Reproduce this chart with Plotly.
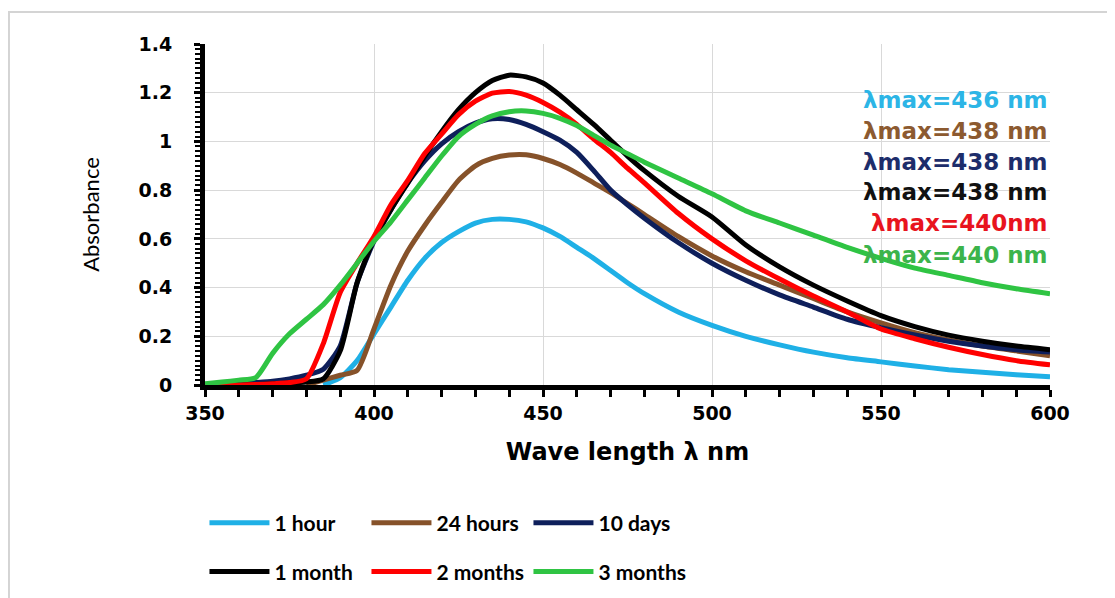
import plotly.graph_objects as go

wavelength = [350, 355, 360, 365, 370, 375, 380, 385, 390, 395, 400, 405, 410, 415, 420,
              425, 430, 435, 440, 445, 450, 455, 460, 465, 470, 475, 480, 490, 500, 510,
              520, 530, 540, 550, 560, 570, 580, 590, 600]

abs_1_hour = [None, None, None, None, None, None, None, 0.0, 0.03, 0.10, 0.21, 0.32, 0.43, 0.52, 0.585,
              0.63, 0.665, 0.68, 0.68, 0.67, 0.645, 0.61, 0.565, 0.52, 0.47, 0.42, 0.375, 0.30, 0.245, 0.20,
              0.165, 0.135, 0.112, 0.095, 0.078, 0.063, 0.052, 0.042, 0.034]

abs_24_hours = [None, None, None, None, None, None, 0.0, 0.02, 0.04, 0.06, 0.23, 0.41, 0.55, 0.655, 0.75,
                0.84, 0.90, 0.93, 0.944, 0.945, 0.93, 0.905, 0.87, 0.83, 0.79, 0.745, 0.70, 0.61, 0.53, 0.465,
                0.41, 0.355, 0.30, 0.255, 0.215, 0.185, 0.16, 0.14, 0.12]

abs_10_days = [0.0, 0.003, 0.006, 0.01, 0.015, 0.025, 0.04, 0.065, 0.16, 0.42, 0.59, 0.72, 0.83, 0.92, 0.99,
               1.04, 1.075, 1.093, 1.09, 1.07, 1.04, 1.005, 0.955, 0.88, 0.80, 0.74, 0.685, 0.585, 0.50, 0.43,
               0.37, 0.32, 0.27, 0.235, 0.205, 0.18, 0.16, 0.145, 0.135]

abs_1_month = [0.0, 0.0, 0.0, 0.002, 0.005, 0.008, 0.012, 0.025, 0.14, 0.42, 0.60, 0.72, 0.83, 0.94, 1.04,
               1.13, 1.20, 1.25, 1.272, 1.265, 1.24, 1.19, 1.13, 1.07, 1.005, 0.94, 0.88, 0.775, 0.69, 0.575,
               0.485, 0.41, 0.345, 0.285, 0.24, 0.205, 0.18, 0.16, 0.145]

abs_2_months = [0.0, 0.0, 0.0, 0.002, 0.005, 0.01, 0.025, 0.17, 0.38, 0.50, 0.61, 0.74, 0.84, 0.95, 1.03,
                1.11, 1.165, 1.198, 1.205, 1.19, 1.16, 1.12, 1.07, 1.01, 0.955, 0.89, 0.83, 0.705, 0.60, 0.51,
                0.435, 0.365, 0.30, 0.23, 0.19, 0.155, 0.125, 0.10, 0.083]

abs_3_months = [0.005, 0.012, 0.02, 0.03, 0.13, 0.21, 0.27, 0.33, 0.41, 0.50, 0.59, 0.67, 0.76, 0.85, 0.94,
                1.02, 1.07, 1.105, 1.122, 1.125, 1.115, 1.095, 1.065, 1.025, 0.985, 0.95, 0.915, 0.85, 0.785, 0.715,
                0.665, 0.615, 0.565, 0.52, 0.48, 0.45, 0.42, 0.395, 0.375]

series_names = ["1 hour", "24 hours", "10 days", "1 month", "2 months", "3 months"]
series_values = [abs_1_hour, abs_24_hours, abs_10_days, abs_1_month, abs_2_months, abs_3_months]
series_colors = ["#1fb0e6", "#86522a", "#0e1f5b", "#000000", "#ff0000", "#2fc443"]
legend_groups = ["legend", "legend", "legend", "legend2", "legend2", "legend2"]

lambda_labels = ["λmax=436 nm", "λmax=438 nm", "λmax=438 nm", "λmax=438 nm", "λmax=440nm", "λmax=440 nm"]
label_colors = ["#2cb5e6", "#8c5a30", "#1d2d6b", "#111111", "#e8141e", "#3cb44b"]
label_y = [1.170, 1.043, 0.915, 0.792, 0.665, 0.534]

fig = go.Figure()
for name, vals, col, lg in zip(series_names, series_values, series_colors, legend_groups):
    fig.add_trace(go.Scatter(
        x=wavelength, y=vals, name=name, mode="lines",
        line=dict(color=col, width=5, shape="spline", smoothing=0.6),
        legend=lg, connectgaps=False,
    ))

for txt, col, yy in zip(lambda_labels, label_colors, label_y):
    fig.add_annotation(x=1.0, xref="paper", y=yy, yref="y", text=txt, showarrow=False,
                       xanchor="right", yanchor="middle",
                       font=dict(family="DejaVu Sans", size=23, color=col, weight="bold"))

# outer chart border
fig.add_shape(type="rect", xref="paper", yref="paper", x0=-0.232, x1=1.1, y0=-0.7, y1=1.094,
              line=dict(color="#d4d4d4", width=2), fillcolor="rgba(0,0,0,0)", layer="below")

tickfont = dict(family="DejaVu Sans", size=19, color="#000000", weight="bold")
legfont = dict(family="Lato", size=21, color="#000000", weight="bold")

fig.update_layout(
    width=1115, height=598,
    margin=dict(l=197, r=73, t=36, b=221),
    paper_bgcolor="white", plot_bgcolor="white",
    xaxis=dict(range=[350, 600], dtick=50, tick0=350, showgrid=True, gridcolor="#d9d9d9", gridwidth=1,
               showline=True, linecolor="black", linewidth=5, ticks="outside", ticklen=7, tickwidth=3,
               tickcolor="black", minor=dict(dtick=10, ticks="outside", ticklen=7, tickwidth=3,
                                             tickcolor="black", showgrid=False),
               tickfont=tickfont, zeroline=False, automargin=False,
               title=dict(text="Wave length λ nm", font=dict(family="DejaVu Sans", size=24,
                                                            color="#000000", weight="bold"),
                          standoff=22)),
    yaxis=dict(range=[0, 1.4], dtick=0.2, showgrid=True, gridcolor="#d9d9d9", gridwidth=1,
               showline=True, linecolor="black", linewidth=5, ticks="outside", ticklen=6, tickwidth=3,
               tickcolor="black", minor=dict(dtick=0.02, ticks="outside", ticklen=5, tickwidth=2,
                                             tickcolor="black", showgrid=False),
               tickfont=tickfont, zeroline=False, automargin=False, ticklabelstandoff=18,
               title=dict(text="Absorbance", font=dict(family="Lato", size=22, color="#000000"),
                          standoff=34)),
    legend=dict(orientation="h", xref="container", yref="container", x=0.1762, xanchor="left",
                y=0.1388, yanchor="middle",
                itemwidth=60, entrywidth=87, entrywidthmode="pixels", font=legfont,
                bgcolor="rgba(0,0,0,0)", traceorder="normal"),
    legend2=dict(orientation="h", xref="container", yref="container", x=0.1762, xanchor="left",
                 y=0.0569, yanchor="middle",
                 itemwidth=60, entrywidth=87, entrywidthmode="pixels", font=legfont,
                 bgcolor="rgba(0,0,0,0)", traceorder="normal"),
    showlegend=True,
)

fig.write_html("out.html")
